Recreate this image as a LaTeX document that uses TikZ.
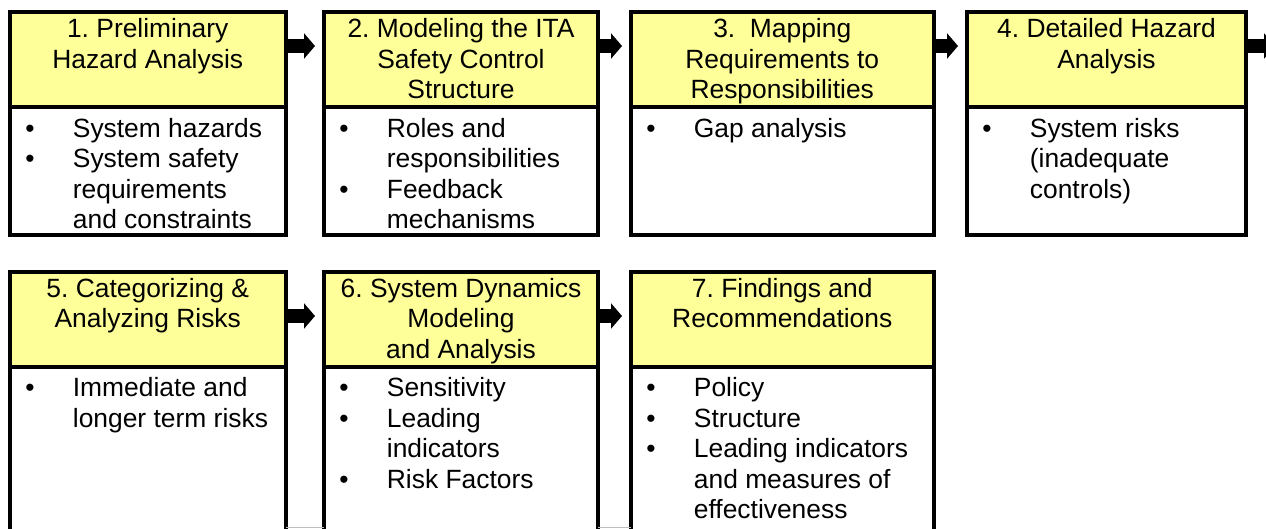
\documentclass[tikz,border=0pt]{standalone}
\usepackage{fontspec}
\setmainfont{Liberation Sans}
\usepackage{xcolor}
\usetikzlibrary{positioning,arrows.meta}
\frenchspacing

\definecolor{headYellow}{HTML}{FFFF99}
\definecolor{ruleGray}{HTML}{BDBDBD}

% bullet and hanging indent of the item lists
\newcommand{\bul}{\makebox[23.75pt][l]{•}}
\newcommand{\hng}{\hspace*{23.75pt}}

\begin{document}
\begin{tikzpicture}[x=0.5pt, y=-0.5pt,
    font=\fontsize{13.2pt}{15.25pt}\selectfont,
    box/.style={draw, line width=2pt, outer sep=0pt, inner sep=0pt, anchor=north west},
    head/.style={box, fill=headYellow, minimum height=47.5pt},
    body/.style={box, fill=white},
    headText/.style={align=center, inner sep=0pt},
    bodyText/.style={align=left, inner sep=0pt},
    stepArrow/.style={line width=7pt, -{Triangle[width=12.5pt, length=5.5pt]}, shorten >=4.5pt},
    tableRule/.style={ruleGray, line width=0.6pt}
  ]
    \def\headDown{1.8pt} % top of the head text
    \def\bodyDown{3.9pt} % top of the first item
    \def\bodyRight{7.5pt}
    \def\arrowUp{7pt}

    \useasboundingbox (0,0) rectangle (1266,529);
    \clip (0,0) rectangle (1266,529);

    %%% first row %%%
    \node[head, minimum width=137.75pt] (h1) at (10,12.5) {};
    \node[head, minimum width=137pt, right=19.25pt of h1] (h2) {};
    \node[head, minimum width=151.25pt, right=16.5pt of h2] (h3) {};
    \node[head, minimum width=139.5pt, right=16.75pt of h3] (h4) {};

    \node[body, minimum width=137.75pt, minimum height=64pt, below=0pt of h1] (b1) {};
    \node[body, minimum width=137pt, minimum height=64pt, below=0pt of h2] (b2) {};
    \node[body, minimum width=151.25pt, minimum height=64pt, below=0pt of h3] (b3) {};
    \node[body, minimum width=139.5pt, minimum height=64pt, below=0pt of h4] (b4) {};

    %%% second row (runs off the page) %%%
    \node[head, minimum width=137.75pt, below=18.25pt of b1] (h5) {};
    \node[head, minimum width=137pt, right=19.25pt of h5] (h6) {};
    \node[head, minimum width=151.25pt, right=16.5pt of h6] (h7) {};

    \node[body, minimum width=137.75pt, minimum height=100pt, below=0pt of h5] (b5) {};
    \node[body, minimum width=137pt, minimum height=100pt, below=0pt of h6] (b6) {};
    \node[body, minimum width=151.25pt, minimum height=100pt, below=0pt of h7] (b7) {};

    % head texts
    \node[headText, below=\headDown of h1.north] (t1) {\strut 1. Preliminary\\ Hazard Analysis};
    \node[headText, below=\headDown of h2.north] (t2) {\strut 2. Modeling the ITA\\ Safety Control\\ Structure};
    \node[headText, below=\headDown of h3.north] (t3) {\strut 3.\ \ Mapping\\ Requirements to\\ Responsibilities};
    \node[headText, below=\headDown of h4.north] (t4) {\strut 4. Detailed Hazard\\ Analysis};
    \node[headText, below=\headDown of h5.north] (t5) {\strut 5. Categorizing \&\\ Analyzing Risks};
    \node[headText, below=\headDown of h6.north] (t6) {\strut 6. System Dynamics\\ Modeling\\ and Analysis};
    \node[headText, below=\headDown of h7.north] (t7) {\strut 7. Findings and\\ Recommendations};

    % item lists
    \node[bodyText, below right=\bodyDown and \bodyRight of b1.north west] (l1)
        {\strut\bul System hazards\\ \bul System safety\\ \hng requirements\\ \hng and constraints};
    \node[bodyText, below right=\bodyDown and \bodyRight of b2.north west] (l2)
        {\strut\bul Roles and\\ \hng responsibilities\\ \bul Feedback\\ \hng mechanisms};
    \node[bodyText, below right=\bodyDown and \bodyRight of b3.north west] (l3)
        {\strut\bul Gap analysis};
    \node[bodyText, below right=\bodyDown and \bodyRight of b4.north west] (l4)
        {\strut\bul System risks\\ \hng (inadequate\\ \hng controls)};
    \node[bodyText, below right=\bodyDown and \bodyRight of b5.north west] (l5)
        {\strut\bul Immediate and\\ \hng longer term risks};
    \node[bodyText, below right=\bodyDown and \bodyRight of b6.north west] (l6)
        {\strut\bul Sensitivity\\ \bul Leading\\ \hng indicators\\ \bul Risk Factors};
    \node[bodyText, below right=\bodyDown and \bodyRight of b7.north west] (l7)
        {\strut\bul Policy\\ \bul Structure\\ \bul Leading indicators\\ \hng and measures of\\ \hng effectiveness};

    %%% arrows %%%
    \coordinate (exit) at (1275,46);
    \draw[stepArrow] ([yshift=\arrowUp]h1.east) -- ([yshift=\arrowUp]h2.west);
    \draw[stepArrow] ([yshift=\arrowUp]h2.east) -- ([yshift=\arrowUp]h3.west);
    \draw[stepArrow] ([yshift=\arrowUp]h3.east) -- ([yshift=\arrowUp]h4.west);
    \draw[stepArrow, shorten >=0pt] ([yshift=\arrowUp]h4.east) -- (exit);
    \draw[stepArrow] ([yshift=1.75pt]h5.east) -- ([yshift=1.75pt]h6.west);
    \draw[stepArrow] ([yshift=1.75pt]h6.east) -- ([yshift=1.75pt]h7.west);

    % thin rule along the bottom edge
    \draw[tableRule] (b5.east |- 0,527.5) -- (b6.west |- 0,527.5);
    \draw[tableRule] (b6.east |- 0,527.5) -- (b7.west |- 0,527.5);
\end{tikzpicture}
\end{document}
